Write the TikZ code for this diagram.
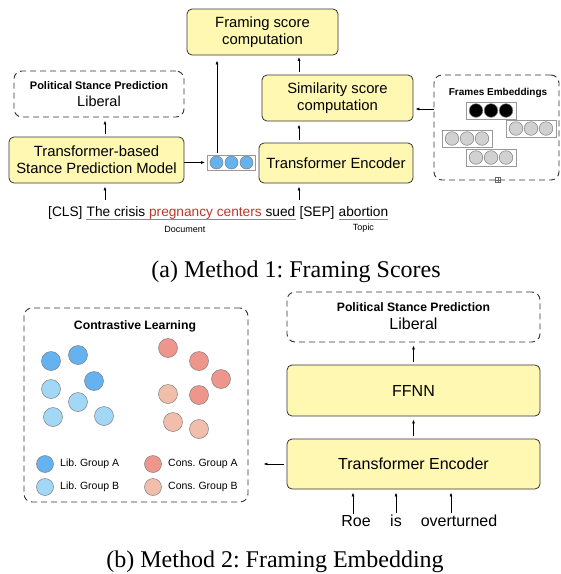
\documentclass[tikz,border=0pt]{standalone}
\usepackage{fontspec}
\setmainfont{Liberation Sans}
\newfontfamily\capfont{Liberation Serif}
\usetikzlibrary{positioning,arrows.meta}
\definecolor{boxyellow}{RGB}{255,248,178}
\definecolor{libA}{RGB}{100,178,240}
\definecolor{libB}{RGB}{162,215,245}
\definecolor{consA}{RGB}{238,150,140}
\definecolor{consB}{RGB}{240,190,170}
\definecolor{stancered}{RGB}{190,55,40}
\newcommand\ftopbox{\fontsize{14.8}{17}\selectfont}
\newcommand\fbotbox{\fontsize{16}{19}\selectfont}
\newcommand\flegend{\fontsize{10.5}{12}\selectfont}
\newcommand\fcaption{\capfont\fontsize{24}{28}\selectfont}
\frenchspacing
\begin{document}
\begin{tikzpicture}[x=1pt,y=-1pt,>={Latex[length=4pt,width=3pt]},
  box/.style={draw=black!80,fill=boxyellow,rounded corners=5pt,align=center,inner sep=0pt,line width=0.8pt},
  dashbox/.style={draw=black!80,dash pattern=on 6pt off 4pt,rounded corners=8pt,inner sep=0pt,line width=0.9pt},
  vecbox/.style={draw=black!40,fill=white,inner sep=0pt,line width=0.8pt},
  dotc/.style={draw=black!50,line width=0.5pt},
  word/.style={inner sep=0pt,font=\fontsize{13.7}{16}\selectfont},
  arr/.style={->,line width=0.7pt,shorten <=3pt,shorten >=3pt}]
\useasboundingbox (0,0) rectangle (561,574);

% Method 1
\node[box,minimum width=151pt,minimum height=46pt,font=\ftopbox] (frame) at (262.5,32) {Framing score\\computation};
\node[box,minimum width=151pt,minimum height=46pt,font=\ftopbox] (sim) at (337.5,98) {Similarity score\\computation};
\node[box,minimum width=154pt,minimum height=40pt,font=\ftopbox] (enc1) at (336,163) {Transformer Encoder};
\node[box,minimum width=175pt,minimum height=46pt,font=\ftopbox] (tsp) at (96.5,160) {Transformer-based\\Stance Prediction Model};
\node[dashbox,minimum width=170pt,minimum height=46pt] (psp1) at (99,94) {};
\node[font=\fontsize{11}{13}\bfseries] (psp1t) at (99,86) {Political Stance Prediction};
\node[font=\fontsize{14.5}{17}\selectfont] (psp1l) at (99,101) {Liberal};

\node[vecbox,minimum width=48pt,minimum height=15pt] (vec) at (231.5,162.5) {};
\foreach \dx in {-15,0,15}
  \filldraw[dotc,fill=libA] ([xshift=\dx pt]vec.center) circle[radius=6.5];

\node[dashbox,minimum width=125pt,minimum height=105pt] (frames) at (496.5,127.5) {};
\node[font=\fontsize{10}{12}\bfseries] (framest) at (498,93) {Frames Embeddings};
\foreach \n/\x/\y/\c in {ev1/491/110.5/black,ev2/531/128.5/black!18,ev3/467/138.5/black!18,ev4/491/157.5/black!18}{
  \node[vecbox,minimum width=50pt,minimum height=17pt] (\n) at (\x,\y) {};
  \foreach \dx in {-15,0,15}
    \filldraw[dotc,fill=\c] ([xshift=\dx pt]\n.center) circle[radius=6.8];
}
\node[draw=black!60,fill=white,minimum size=5pt,inner sep=0pt,line width=0.5pt] (fmark) at (498,180) {};
\draw[black!60,line width=0.4pt] (fmark.north) -- (fmark.south) (fmark.west) -- (fmark.east);

% input sentence
\node[word,anchor=base west] (cls) at (48,216) {[CLS]};
\node[word,base right=3.8pt of cls] (doc) {The crisis \textcolor{stancered}{pregnancy centers} sued};
\node[word,base right=3.8pt of doc] (sep) {[SEP]};
\node[word,base right=3.8pt of sep] (topic) {abortion};
\draw[black!45,line width=0.6pt] ([yshift=-3.5pt]doc.base west) -- ([yshift=-3.5pt]doc.base east);
\draw[black!45,line width=0.6pt] ([yshift=-3.5pt]topic.base west) -- ([yshift=-3.5pt]topic.base east);
\node[font=\fontsize{9}{11}\selectfont,below=4pt of doc,xshift=-6pt] (docl) {Document};
\node[font=\fontsize{9}{11}\selectfont,below=4pt of topic] (topicl) {Topic};

\coordinate (in1) at (105,200);
\coordinate (in2) at (299,200);
\draw[arr,shorten <=0pt] (in1) -- (in1 |- tsp.south);
\draw[arr,shorten <=0pt] (in2) -- (in2 |- enc1.south);
\draw[arr] (tsp.north -| in1) -- (psp1.south -| in1);
\draw[arr] (enc1.north -| in2) -- (sim.south -| in2);
\draw[arr,shorten >=1.5pt] (sim.north -| in2) -- (frame.south -| in2);
\draw[arr,shorten <=0pt,shorten >=2pt] (tsp.east |- vec.west) -- (vec.west);
\draw[arr,shorten <=2pt,shorten >=5pt] ([xshift=-14.5pt]vec.north) -- ([xshift=-14.5pt]vec.north |- frame.south);
\draw[arr,shorten <=0pt,shorten >=2pt] ([yshift=18.5pt]frames.west) -- ([yshift=18.5pt]frames.west -| sim.east);

\node[font=\fcaption,anchor=base] (capa) at (296,277) {(a) Method 1: Framing Scores};

% Method 2
\node[dashbox,minimum width=224pt,minimum height=194pt] (cl) at (136,405) {};
\node[font=\fontsize{12.2}{14}\bfseries] (clt) at (135,326) {Contrastive Learning};
\foreach \x/\y in {51/361,78/355,94/381}
  \filldraw[dotc,fill=libA] (\x,\y) circle[radius=9.5];
\foreach \x/\y in {51/389,78/402,53/417,104/416}
  \filldraw[dotc,fill=libB] (\x,\y) circle[radius=9.5];
\foreach \x/\y in {168/348,199/361,221/379,199/395}
  \filldraw[dotc,fill=consA] (\x,\y) circle[radius=9.5];
\foreach \x/\y in {168/394,173/422,199/429}
  \filldraw[dotc,fill=consB] (\x,\y) circle[radius=9.5];
\foreach \x/\y/\c/\t in {45/464/libA/Lib. Group A,45/487/libB/Lib. Group B,153/464/consA/Cons. Group A,153/487/consB/Cons. Group B}{
  \filldraw[dotc,fill=\c] (\x,\y) circle[radius=8.5];
  \node[font=\flegend,anchor=west,inner sep=0pt] at (\x+15,\y) {\t};
}

\node[dashbox,minimum width=253pt,minimum height=50pt] (psp2) at (413.5,317) {};
\node[font=\fontsize{12.2}{14}\bfseries] (psp2t) at (413.5,307) {Political Stance Prediction};
\node[font=\fbotbox] (psp2l) at (413.5,324) {Liberal};
\node[box,minimum width=253pt,minimum height=51pt,font=\fbotbox] (ffnn) at (413.5,390.5) {FFNN};
\node[box,minimum width=253pt,minimum height=50pt,font=\fbotbox] (enc2) at (413.5,464) {Transformer Encoder};

\node[inner sep=0pt,font=\fbotbox,anchor=base] (roe) at (356,526) {Roe};
\node[inner sep=0pt,font=\fbotbox,anchor=base] (is) at (396,526) {is};
\node[inner sep=0pt,font=\fbotbox,anchor=base] (over) at (459,526) {overturned};

\draw[arr] (ffnn.north) -- (psp2.south);
\draw[arr] (enc2.north) -- (ffnn.south);
\draw[arr,shorten >=15pt] (enc2.west) -- (enc2.west -| cl.east);
\draw[arr,shorten <=1pt] ([xshift=-3pt]roe.north) -- ([xshift=-3pt]roe.north |- enc2.south);
\draw[arr,shorten <=1pt] (is.north) -- (is.north |- enc2.south);
\draw[arr,shorten <=1pt] ([xshift=-8pt]over.north) -- ([xshift=-8pt]over.north |- enc2.south);

\node[font=\fcaption,anchor=base] (capb) at (275,567) {(b) Method 2: Framing Embedding};
\end{tikzpicture}
\end{document}
